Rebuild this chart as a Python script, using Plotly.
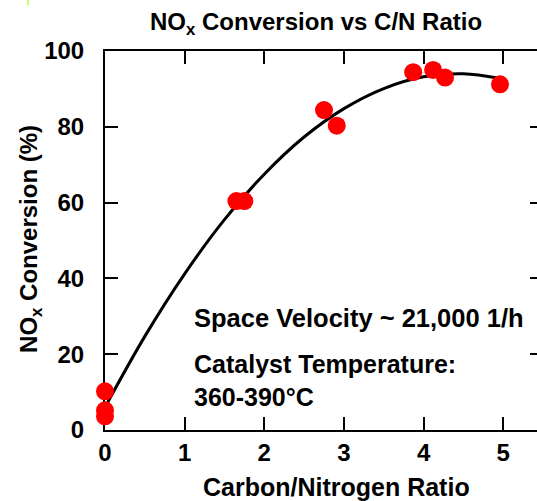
import plotly.graph_objects as go

# Measured data points (C/N ratio vs NOx conversion %)
cn_ratio = [0.0, 0.0, 0.0, 1.65, 1.75, 2.75, 2.91, 3.87, 4.12, 4.27, 4.96]
nox_conversion = [10.2, 5.2, 3.6, 60.4, 60.4, 84.4, 80.3, 94.4, 95.0, 93.0, 91.2]

# Trend curve
curve_x = [0.0, 0.5, 1.0, 1.5, 2.0, 2.5, 3.0, 3.5, 4.0, 4.5, 4.95]
curve_y = [6.0, 24.7, 41.2, 55.5, 67.5, 77.3, 84.8, 90.1, 93.2, 94.0, 92.8]

x_ticks = [0, 1, 2, 3, 4, 5]
y_ticks = [0, 20, 40, 60, 80, 100]

FONT = "Liberation Sans, Arial, sans-serif"

# Layout geometry (pixels)
FIG_W, FIG_H = 545, 501
ML, MT, MB = 105, 51, 71
PW = FIG_W - ML            # plot width
PH = FIG_H - MT - MB       # plot height


def px(xp):
    return (xp - ML) / PW


def py(yp):
    return (FIG_H - MB - yp) / PH


fig = go.Figure()
fig.add_trace(go.Scatter(
    x=curve_x, y=curve_y, mode="lines",
    line=dict(color="black", width=3, shape="spline"),
    showlegend=False, hoverinfo="skip", cliponaxis=False,
))
fig.add_trace(go.Scatter(
    x=cn_ratio, y=nox_conversion, mode="markers",
    marker=dict(color="#ff0000", size=18, line=dict(width=0)),
    showlegend=False, cliponaxis=False,
))

axis_common = dict(
    showgrid=False, zeroline=False, showline=True, linecolor="black",
    linewidth=2, ticks="inside", ticklen=13, tickwidth=2, tickcolor="black",
    mirror="ticks", layer="below traces",
    tickfont=dict(family=FONT, size=24, color="black", weight="bold"),
)

fig.update_layout(
    width=FIG_W, height=FIG_H,
    margin=dict(l=ML, r=0, t=MT, b=MB),
    paper_bgcolor="white", plot_bgcolor="white",
    xaxis=dict(range=[0, 5.5], tickvals=x_ticks, ticklabelstandoff=0, **axis_common),
    yaxis=dict(range=[0, 100], tickvals=y_ticks, ticklabelstandoff=14, **axis_common),
    font=dict(family=FONT, color="black"),
)

annotations = [
    dict(text="<b>NO<sub>x</sub> Conversion vs C/N Ratio</b>", xref="paper", yref="paper",
         x=px(317), y=py(6), xanchor="center", yanchor="top",
         showarrow=False, font=dict(size=24, family=FONT, color="black")),
    dict(text="<b>Carbon/Nitrogen Ratio</b>", xref="paper", yref="paper",
         x=px(338), y=py(471), xanchor="center", yanchor="top",
         showarrow=False, font=dict(size=25, family=FONT, color="black")),
    dict(text="<b>NO<sub>x</sub> Conversion (%)</b>", xref="paper", yref="paper",
         x=px(30), y=0.505, xanchor="center", yanchor="middle", textangle=-90,
         showarrow=False, font=dict(size=24, family=FONT, color="black")),
    dict(text="<b>Space Velocity ~ 21,000 1/h</b>", xref="paper", yref="paper",
         x=px(192), y=py(318), xanchor="left", yanchor="middle",
         showarrow=False, font=dict(size=25.5, family=FONT, color="black")),
    dict(text="<b>Catalyst Temperature:<br>360-390°C</b>", xref="paper", yref="paper",
         x=px(192), y=py(380), xanchor="left", yanchor="middle",
         align="left", showarrow=False, font=dict(size=25, family=FONT, color="black")),
]
fig.update_layout(annotations=annotations)

fig.add_shape(type="line", xref="paper", yref="paper",
              x0=px(27.5), x1=px(27.5), y0=py(0), y1=py(5),
              line=dict(color="#b5ff3a", width=1.5))

fig.write_html(
    "out.html",
    config={"displayModeBar": False},
    post_script="document.body.style.margin='0';document.body.style.overflow='hidden';",
)
